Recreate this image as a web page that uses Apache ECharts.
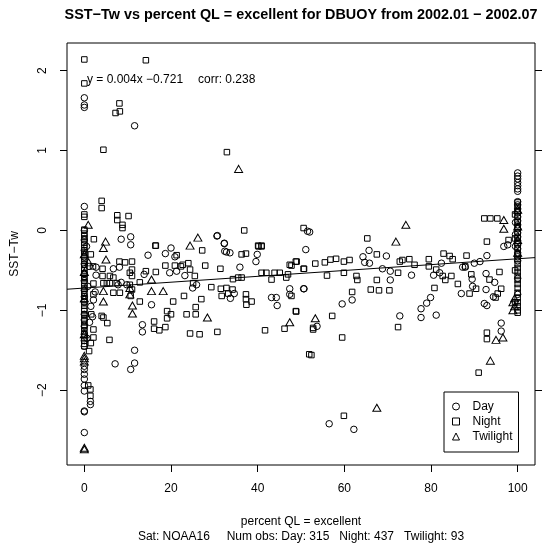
<!DOCTYPE html>
<html>
<head>
<meta charset="utf-8">
<script src="https://cdn.jsdelivr.net/npm/echarts@6/dist/echarts.min.js"></script>
<style>
html,body{margin:0;padding:0;background:#fff;}
#chart{width:544px;height:546px;}
</style>
</head>
<body>
<div id="chart"></div>
<script>
// ---- data ----
const xTicks = [0, 20, 40, 60, 80, 100];
const yTicks = [-2, -1, 0, 1, 2];
const xRange = [-4, 104];
const yRange = [-2.936, 2.346];

const titleText = 'SST\u2212Tw vs percent QL = excellent for DBUOY from 2002.01 \u2212 2002.07';
const xTitle = 'percent QL = excellent';
const subTitle = 'Sat: NOAA16     Num obs: Day: 315   Night: 437   Twilight: 93';
const yTitle = 'SST\u2212Tw';
const fitText = 'y = 0.004x \u22120.721';
const corrText = 'corr: 0.238';
const fitLine = [[-4, -0.736], [104, -0.34]];

const dayPoints = [
  [0,1.66],[0,1.57],[0,1.54],[11.6,1.31],[0,0.3],
  [8.5,-0.11],[10.7,-0.08],[10.7,-0.18],[20,-0.22],[30.6,-0.07],[32.3,-0.16],[51.5,-0.01],[52,-0.02],
  [96.8,-0.2],[97.7,-0.18],
  [2.7,-0.46],[2.7,-0.56],[2.5,-0.77],[2.1,-0.87],[1.9,-1.08],
  [6.7,-0.48],[8.1,-0.46],[8.5,-0.65],[7.8,-0.68],[9.8,-0.68],
  [13.8,-0.55],[15.5,-0.93],[13.4,-1.18],[13.4,-1.27],[11.6,-1.5],[11.6,-1.66],[10.7,-1.74],[7.1,-1.67],
  [14.7,-0.31],[18.7,-0.29],[20.9,-0.33],[19.7,-0.53],[21.3,-0.51],[23.2,-0.565],[25,-0.72],[25.9,-0.68],
  [30.7,-0.065],[32.3,-0.165],[32.4,-0.26],[33.6,-0.28],[32.8,-0.27],[34.6,-0.79],[33.7,-0.85],[35.9,-0.46],
  [39.9,-0.3],[39.6,-0.39],[43.2,-0.84],[44.3,-0.84],[44.5,-0.94],[47.4,-0.73],[47.4,-0.8],[50.7,-0.73],[51.1,-0.24],
  [65.7,-0.25],[64.3,-0.33],[64.7,-0.4],[65.8,-0.41],[69.7,-0.32],[68.8,-0.48],[70.6,-0.51],[70.6,-0.62],
  [61.8,-0.87],[59.5,-0.92],[50.6,-0.73],[53.7,-1.2],[56.5,-2.42],[62.2,-2.49],[72.8,-1.07],
  [77.7,-0.98],[77.7,-1.09],[79,-0.91],[79.9,-0.84],[81.2,-1.06],[75.5,-0.56],[80.6,-0.56],
  [82.4,-0.41],[82,-0.53],[87.3,-0.46],[87.9,-0.46],[87,-0.79],[89.5,-0.61],[89.6,-0.7],[90,-0.41],[91.3,-0.39],
  [92.9,-0.315],[92.7,-0.54],[92.7,-0.74],[92.3,-0.915],[92.9,-0.94],[94.4,-0.83],[94.7,-0.65],[96.2,-1.16],[96.2,-1.26],
  [0,0.0],[0,-0.12],[0,-0.25],[0,-0.33],[0,-0.42],[0,-0.55],[0,-0.63],[0,-0.75],[0,-0.83],[0,-0.9],
  [0,-1.05],[0,-1.12],[0,-1.2],[0,-1.3],[0,-1.38],[0,-1.45],
  [0,-1.7],[0,-1.74],[0,-1.8],[0,-1.86],[0,-1.94],[0,-2.01],[1.4,-2.14],[1.4,-2.18],[0,-2.26],[0,-2.27],[0,-2.53],
  [0.5,-0.2],[1.1,-0.45],[0.8,-0.7],[1.5,-0.95],[1.2,-1.15],[0.6,-1.35],
  [100,0.72],[100,0.68],[100,0.645],[100,0.6],[100,0.56],[100,0.52],[100,0.49],[100,0.36],[100,0.32],[100,0.27],
  [100,0.22],[100,0.17],[100,0.12],[100,0.07],[100,0.02],[100,-0.03],[100,-0.08],[100,-0.13],[100,-0.18],
  [100,-0.23],[100,-0.28],[100,-0.33],[100,-0.38],[99.5,0.1],[99.5,-0.05],[99.5,-0.2],[100,-0.6],[100,-0.8]
];

const nightPoints = [
  [0,2.14],[14.2,2.13],[0,1.84],[8.1,1.59],[7.2,1.47],[8.2,1.49],[4.4,1.01],[32.9,0.98],
  [4.0,0.37],[4.0,0.28],[0,0.2],[0,0.17],[7.6,0.19],[7.6,0.13],[8.8,0.07],[8.8,0.03],[10.2,0.18],
  [2.2,-0.11],[16.4,-0.19],[36.9,0.0],[40.2,-0.2],[40.9,-0.2],[50.6,0.03],[65.3,-0.1],
  [92.3,0.15],[93.7,0.15],[95.3,0.15],[92.9,-0.14],[97.9,-0.12],
  [47.4,-0.43],[48.8,-0.39],[50.6,-0.48],[47.8,-0.82],[48.8,-1.01],[53.3,-0.415],[55.5,-0.4],[56.8,-0.365],
  [58.1,-0.355],[59.9,-0.39],[61.2,-0.37],[56,-0.565],[59.9,-0.53],[62.8,-0.57],[67.5,-0.3],[63,-0.62],
  [67.5,-0.62],[66.1,-0.74],[68,-0.75],[70.4,-0.75],[61.8,-0.77],[57.2,-1.07],[52.8,-1.22],[52.8,-1.24],
  [59.5,-1.34],[52.4,-1.56],[59.9,-2.32],[72.4,-1.21],[72.4,-0.53],[73.4,-0.37],[75,-0.36],[76.2,-0.43],
  [72.8,-0.39],[79.5,-0.36],[79.5,-0.45],[80.8,-0.72],[82.9,-0.29],[84.3,-0.32],[85,-0.36],[81.2,-0.49],
  [82.7,-0.57],[83.3,-0.62],[92.9,-1.28],[92.9,-1.36],[91,-1.78],
  [84.7,-0.57],[86.2,-0.67],[88.2,-0.315],[87.9,-0.45],[89.3,-0.55],[88.9,-0.79],[90.4,-0.73],[93.5,-0.615],
  [95.8,-0.52],[96.2,-0.73],[95.4,-0.79],[94.9,-0.84],
  [8.1,-0.39],[9.4,-0.4],[11,-0.39],[11,-0.49],[11,-0.57],[10.5,-0.53],[10.5,-0.68],[11,-0.74],[10.7,-0.82],[8.2,-0.78],
  [4.2,-0.48],[4.2,-0.57],[4.4,-0.66],[5.9,-0.57],[5.9,-0.66],[6.7,-0.59],[7.5,-0.66],[6.7,-0.78],[5.2,-0.66],
  [2.1,-0.665],[2.1,-1.24],[2.1,-1.34],[1.1,-1.51],[4,-1.07],[4.4,-1.09],[5.3,-1.16],[5.8,-1.37],
  [12.8,-0.65],[12.8,-0.89],[14.2,-0.51],[16.5,-0.52],[16.5,-0.19],[16.1,-1.14],[16.1,-1.23],[17.3,-1.25],
  [18.7,-1.21],[19.1,-1.01],[19.1,-1.1],[20,-1.05],
  [18.7,-0.44],[20.9,-0.44],[21.3,-0.31],[22.3,-0.45],[22.7,-0.43],[24,-0.41],[24.4,-0.49],[25.5,-0.57],
  [25.1,-0.66],[27.9,-0.44],[27.2,-0.25],
  [20.5,-0.89],[23,-0.82],[23.6,-1.05],[25.7,-0.96],[25.7,-1.05],[27,-0.86],[24.4,-1.29],[26.6,-1.3],[30.7,-1.27],
  [29.3,-0.71],[31.4,-0.48],[31.5,-0.73],[32.8,-0.72],[34.2,-0.74],[31.7,-0.82],[33.2,-0.79],[34.3,-0.61],
  [35.5,-0.59],[36.3,-0.59],[37.3,-0.8],[37.3,-0.86],[37.4,-0.93],[38.6,-0.89],[36.3,-0.3],[37.3,-0.29],
  [40.9,-0.19],[40.1,-0.19],[40.9,-0.53],[42,-0.53],[43.2,-0.615],[43.9,-0.53],[45.1,-0.53],[47,-0.55],
  [46.6,-0.59],[47.8,-0.44],[49,-0.39],[50.7,-0.48],[41.7,-1.25],[46.2,-1.23],[48.9,-1.015],[51.9,-1.55],
  [0,0.01],[0,-0.04],[0,-0.07],[0,-0.1],[0,-0.15],[0,-0.18],[0,-0.22],[0,-0.27],[0,-0.3],[0,-0.35],
  [0,-0.38],[0,-0.43],[0,-0.47],[0,-0.5],[0,-0.54],[0,-0.58],[0,-0.61],[0,-0.66],[0,-0.7],[0,-0.73],
  [0,-0.78],[0,-0.82],[0,-0.86],[0,-0.89],[0,-0.94],[0,-0.98],[0,-1.01],[0,-1.06],[0,-1.1],[0,-1.14],
  [0,-1.18],[0,-1.22],[0,-1.26],[0,-1.3],[0,-1.34],[0,-1.38],[0,-1.42],[0,-1.45],
  [0.9,-1.94],[1.4,-1.99],[1.4,-2.07],
  [1.5,-0.3],[2.1,-0.8],[1.5,-1.41],[2.0,-0.45],[1.6,-1.05],
  [100,0.35],[100,0.3],[100,0.24],[100,0.18],[100,0.1],[100,0.04],[100,-0.02],[100,-0.1],[100,-0.16],
  [100,-0.22],[100,-0.3],[100,-0.36],[100,-0.42],[100,-0.47],[100,-0.52],[100,-0.57],[100,-0.62],
  [100,-0.67],[100,-0.72],[100,-0.78],[100,-0.84],[100,-0.9],[100,-0.95],[100,-1.0],[100,-1.03],
  [99.4,0.2],[99.4,-0.1],[99.4,-0.5],[99.4,-0.9]
];

const twilightPoints = [
  [35.6,0.77],[0.9,0.07],[4.9,-0.14],[24.4,-0.19],[26.2,-0.09],[74.2,0.07],[71.9,-0.14],[96.8,0.13],[96.8,0.02],
  [53.3,-1.1],[47.4,-1.15],[67.5,-2.22],[95,-1.37],[96.6,-1.34],[93.7,-1.63],[98.9,-0.9],[98.9,-1.0],
  [4.4,-0.22],[5,-0.365],[4.4,-0.76],[4.4,-0.89],[10.5,-0.72],[10.5,-0.8],[11.1,-0.94],[11.1,-1.04],
  [15.5,-0.615],[15.5,-0.76],[18.2,-0.76],[28.4,-1.09],
  [0,-0.3],[0,-0.52],[0,-0.85],[0,-1.3],[0,-1.57],[0,-1.6],[0,-1.64],[0,-2.72],[0,-2.74],[1,-0.4],
  [100,0.26],[100,0.05],[100,-0.12],[100,-0.28],[99.3,-0.85],[99.3,-0.95]
];

// ---- chart ----
const FONT = 'Liberation Sans, Arial, Helvetica, sans-serif';
const chart = echarts.init(document.getElementById('chart'), null, {renderer: 'canvas'});
const markerStyle = {color: 'rgba(0,0,0,0)', borderColor: '#000', borderWidth: 1, opacity: 1};
const tickStyle = {show: true, length: 7, inside: false, lineStyle: {color: '#000', width: 1}};
const minusFmt = v => String(v).replace('-', '\u2212');

const option = {
  animation: false,
  backgroundColor: '#fff',
  grid: {left: 67, right: 9, top: 43, bottom: 81, show: true, borderColor: '#000', borderWidth: 1, backgroundColor: 'rgba(0,0,0,0)'},
  xAxis: {
    type: 'value', min: xRange[0], max: xRange[1], position: 'bottom',
    axisLine: {show: false, onZero: false},
    splitLine: {show: false},
    axisTick: Object.assign({customValues: xTicks}, tickStyle),
    axisLabel: {color: '#000', fontSize: 12, fontFamily: FONT, margin: 18, customValues: xTicks}
  },
  yAxis: [{
    type: 'value', min: yRange[0], max: yRange[1], position: 'left',
    axisLine: {show: false, onZero: false},
    splitLine: {show: false},
    axisTick: Object.assign({customValues: yTicks}, tickStyle),
    axisLabel: {color: '#000', fontSize: 12, fontFamily: FONT, margin: 18, rotate: 90, customValues: yTicks, formatter: minusFmt}
  }, {
    type: 'value', min: yRange[0], max: yRange[1], position: 'right',
    axisLine: {show: false, onZero: false},
    splitLine: {show: false},
    axisTick: Object.assign({customValues: yTicks}, tickStyle),
    axisLabel: {show: false}
  }],
  legend: {
    data: ['Day', 'Night', 'Twilight'],
    orient: 'vertical', left: 444, top: 392,
    padding: [7, 6, 8, 8],
    itemGap: 0, itemWidth: 7, itemHeight: 7,
    borderColor: '#000', borderWidth: 1, borderRadius: 0,
    backgroundColor: '#fff',
    itemStyle: {color: 'rgba(0,0,0,0)', borderColor: '#000', borderWidth: 1},
    textStyle: {color: '#000', fontSize: 12, fontFamily: FONT, lineHeight: 15, padding: [0, 0, 0, 8]}
  },
  series: [
    {name: 'Day', type: 'scatter', symbol: 'circle', symbolSize: 6.5, data: dayPoints, itemStyle: markerStyle, z: 3},
    {name: 'Night', type: 'scatter', symbol: 'rect', symbolSize: 5.5, data: nightPoints, itemStyle: markerStyle, z: 3},
    {name: 'Twilight', type: 'scatter', symbol: 'triangle', symbolSize: [8, 7], data: twilightPoints, itemStyle: markerStyle, z: 3},
    {name: 'fit', type: 'line', data: fitLine, symbol: 'none', silent: true, lineStyle: {color: '#000', width: 1}, z: 2}
  ],
  graphic: [
    {type: 'text', x: 301, y: 15, style: {text: titleText, font: 'bold 14.4px ' + FONT, fill: '#000', align: 'center', verticalAlign: 'middle'}},
    {type: 'text', x: 301, y: 522, style: {text: xTitle, font: '12px ' + FONT, fill: '#000', align: 'center', verticalAlign: 'middle'}},
    {type: 'text', x: 301, y: 537, style: {text: subTitle, font: '12px ' + FONT, fill: '#000', align: 'center', verticalAlign: 'middle'}},
    {type: 'text', x: 15, y: 254, rotation: Math.PI / 2, style: {text: yTitle, font: '12px ' + FONT, fill: '#000', align: 'center', verticalAlign: 'middle'}},
    {type: 'text', x: 87, y: 80, z: 10, style: {text: fitText, font: '12px ' + FONT, fill: '#000', align: 'left', verticalAlign: 'middle'}},
    {type: 'text', x: 198, y: 80, z: 10, style: {text: corrText, font: '12px ' + FONT, fill: '#000', align: 'left', verticalAlign: 'middle'}}
  ]
};
chart.setOption(option);
</script>
</body>
</html>
